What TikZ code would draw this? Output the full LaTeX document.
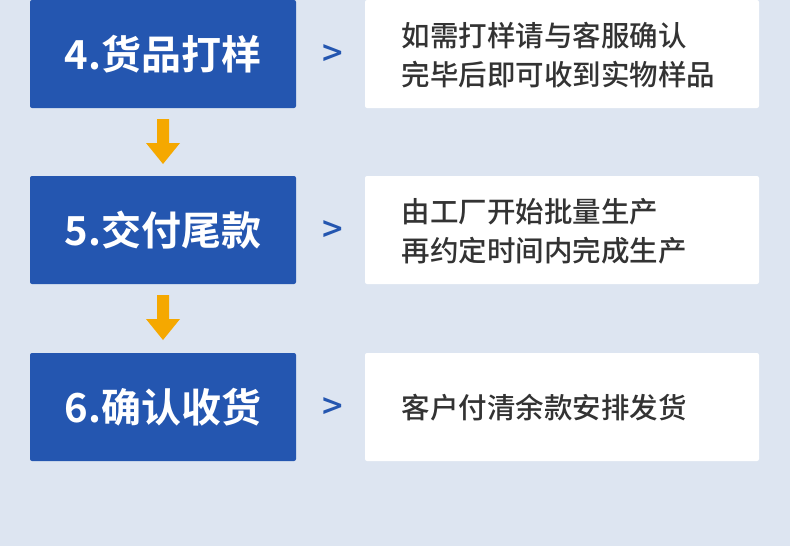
\documentclass[tikz,border=0pt]{standalone}
\usepackage{fontspec}
\setmainfont{Noto Sans CJK SC Medium}
\newfontfamily\cjkb{Noto Sans CJK SC Bold}
\definecolor{bg}{HTML}{DDE5F1}
\definecolor{bl}{HTML}{2456B0}
\definecolor{og}{HTML}{F5A800}
\definecolor{tx}{HTML}{333333}
\begin{document}
\begin{tikzpicture}[x=1pt,y=-1pt,
  stepbox/.style={fill=bl,rounded corners=2pt,minimum width=266pt,minimum height=108pt,inner sep=0pt,text=white,font=\cjkb\fontsize{40}{46}\selectfont},
  infobox/.style={fill=white,rounded corners=2pt,minimum width=394pt,minimum height=108pt,inner sep=0pt},
  info/.style={text=tx,font=\fontsize{28.5}{39}\selectfont,align=left,anchor=west},
  gt/.style={text=bl,font=\fontsize{36}{36}\selectfont},
  flow/.style={draw=none,fill=og}]
\fill[bg] (0,0) rectangle (790,546);
\useasboundingbox (0,0) rectangle (790,546);
\node[stepbox] (s4) at (163,54) {4.货品打样};
\node[stepbox] (s5) at (163,230) {5.交付尾款};
\node[stepbox] (s6) at (163,407) {6.确认收货};
\node[infobox] (i4) at (562,54) {};
\node[infobox] (i5) at (562,230) {};
\node[infobox] (i6) at (562,407) {};
\node[info] (t4) at (398,55) {如需打样请与客服确认\\完毕后即可收到实物样品};
\node[info] (t5) at (398,231) {由工厂开始批量生产\\再约定时间内完成生产};
\node[info] (t6) at (398,408) {客户付清余款安排发货};
\node[gt] (g4) at (333,56) {>};
\node[gt] (g5) at (333,232) {>};
\node[gt] (g6) at (333,409) {>};
\fill[og] (157,119) -- (169,119) -- (169,143) -- (180,143) -- (163,164) -- (146,143) -- (157,143) -- cycle;
\fill[og] (157,295) -- (169,295) -- (169,319) -- (180,319) -- (163,340) -- (146,319) -- (157,319) -- cycle;
\end{tikzpicture}
\end{document}
